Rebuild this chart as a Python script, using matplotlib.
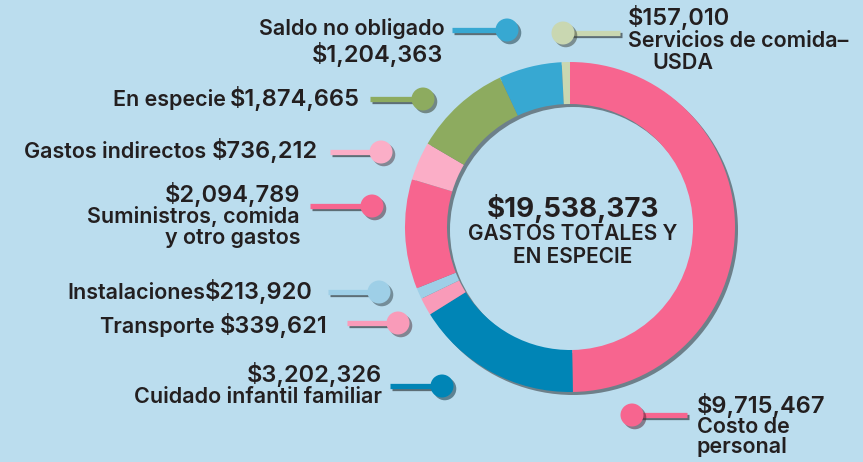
import matplotlib
matplotlib.use("Agg")
import matplotlib.pyplot as plt
import matplotlib.patheffects as pe
from matplotlib.patches import Circle, Wedge

# data, clockwise from the top of the ring
categories = ["Costo de\npersonal", "Cuidado infantil familiar", "Transporte", "Instalaciones",
              "Suministros, comida\ny otro gastos", "Gastos indirectos", "En especie",
              "Saldo no obligado", "Servicios de comida–\nUSDA"]
amounts = [9715467, 3202326, 339621, 213920, 2094789, 736212, 1874665, 1204363, 157010]
colors = ["#f7658f", "#0085b6", "#f99bb9", "#9ecfe7", "#f7658f", "#fbaec7", "#8dab5f",
          "#37a8d2", "#c9d7b1"]
center_title = "GASTOS TOTALES Y\nEN ESPECIE"

bg = "#bbddee"
ink = "#231f20"
H = 462


def Y(y):
    return H - y


plt.rcParams['font.family'] = ['Inter', 'DejaVu Sans']

fig = plt.figure(figsize=(8.63, 4.62), dpi=100)
fig.patch.set_facecolor(bg)
ax = fig.add_axes([0, 0, 1, 1])
ax.set_facecolor(bg)

cx, cy, R, W = 570, 227, 165, 42

# drop shadow under the ring
ax.add_patch(Wedge((cx + 3, Y(cy) - 3), R, 0, 360, width=W, facecolor="#2e3438",
                   alpha=0.55, linewidth=0, zorder=0.5))
ax.pie(amounts, colors=colors, radius=R, center=(cx, Y(cy)), startangle=90,
       counterclock=False, wedgeprops=dict(width=W, linewidth=0))
ax.set_xlim(0, 863)
ax.set_ylim(0, H)
ax.set_aspect('equal')
ax.axis('off')

# center text
total = sum(amounts)
ax.text(573, Y(217), f"${total:,}", ha='center', va='baseline', fontsize=20,
        fontweight='bold', color=ink)
for i, line in enumerate(center_title.split("\n")):
    ax.text(573, Y(240 + 23 * i), line, ha='center', va='baseline', fontsize=15,
            fontweight='semibold', color=ink)

# label layout: circle, line start, text anchor, style
layout = [
    dict(circle=(632, 415), start=687, text=(697, 413), style='value_top', ha='left', dy=20),
    dict(circle=(442, 386), start=390, text=(382, 382), style='value_top', ha='right', dy=21),
    dict(circle=(398, 323), start=347, text=(328, 333), style='inline', gap=6),
    dict(circle=(379, 292), start=328, text=(313, 299), style='inline', gap=0),
    dict(circle=(372, 206), start=310, text=(300, 202), style='value_top', ha='right', dy=21),
    dict(circle=(381, 152), start=330, text=(318, 158), style='inline', gap=6),
    dict(circle=(423, 99), start=370, text=(360, 106), style='inline', gap=4),
    dict(circle=(507, 30), start=452, text=(445, 35), style='name_top', ha='right', dy=27),
    dict(circle=(563, 33), start=620, text=(628, 25), style='value_top', ha='left', dy=22,
         indent=24),
]

val_size, name_size = 17, 15.5
renderer = fig.canvas.get_renderer()

for name, amt, col, lay in zip(categories, amounts, colors, layout):
    xc, yc = lay['circle']
    ax.plot([lay['start'], xc], [Y(yc), Y(yc)], color=col, lw=3.8, solid_capstyle='butt',
            path_effects=[pe.SimpleLineShadow(offset=(1.5, -1.5), alpha=0.5), pe.Normal()],
            zorder=3)
    ax.add_patch(Circle((xc, Y(yc)), 11.5, facecolor=col, linewidth=0, zorder=4,
                        path_effects=[pe.SimplePatchShadow(offset=(2, -2), alpha=0.5),
                                      pe.Normal()]))
    tx, ty = lay['text']
    value = f"${amt:,}"
    lines = name.split("\n")
    if lay['style'] == 'inline':
        t = ax.text(tx, Y(ty), value, ha='right', va='baseline', fontsize=val_size,
                    fontweight='semibold', color=ink)
        x0 = t.get_window_extent(renderer).x0
        ax.text(x0 - lay['gap'], Y(ty), lines[0], ha='right', va='baseline',
                fontsize=name_size, fontweight='semibold', color=ink)
    elif lay['style'] == 'value_top':
        ax.text(tx, Y(ty), value, ha=lay['ha'], va='baseline', fontsize=val_size,
                fontweight='semibold', color=ink)
        for i, line in enumerate(lines):
            xi = tx + (lay.get('indent', 0) if i > 0 else 0)
            ax.text(xi, Y(ty + lay['dy'] * (i + 1)), line, ha=lay['ha'], va='baseline',
                    fontsize=name_size, fontweight='semibold', color=ink)
    else:
        ax.text(tx, Y(ty), lines[0], ha=lay['ha'], va='baseline', fontsize=name_size,
                fontweight='semibold', color=ink)
        ax.text(tx - 2, Y(ty + lay['dy']), value, ha=lay['ha'], va='baseline',
                fontsize=val_size, fontweight='semibold', color=ink)

fig.savefig("out.png", dpi=100, facecolor=bg)
